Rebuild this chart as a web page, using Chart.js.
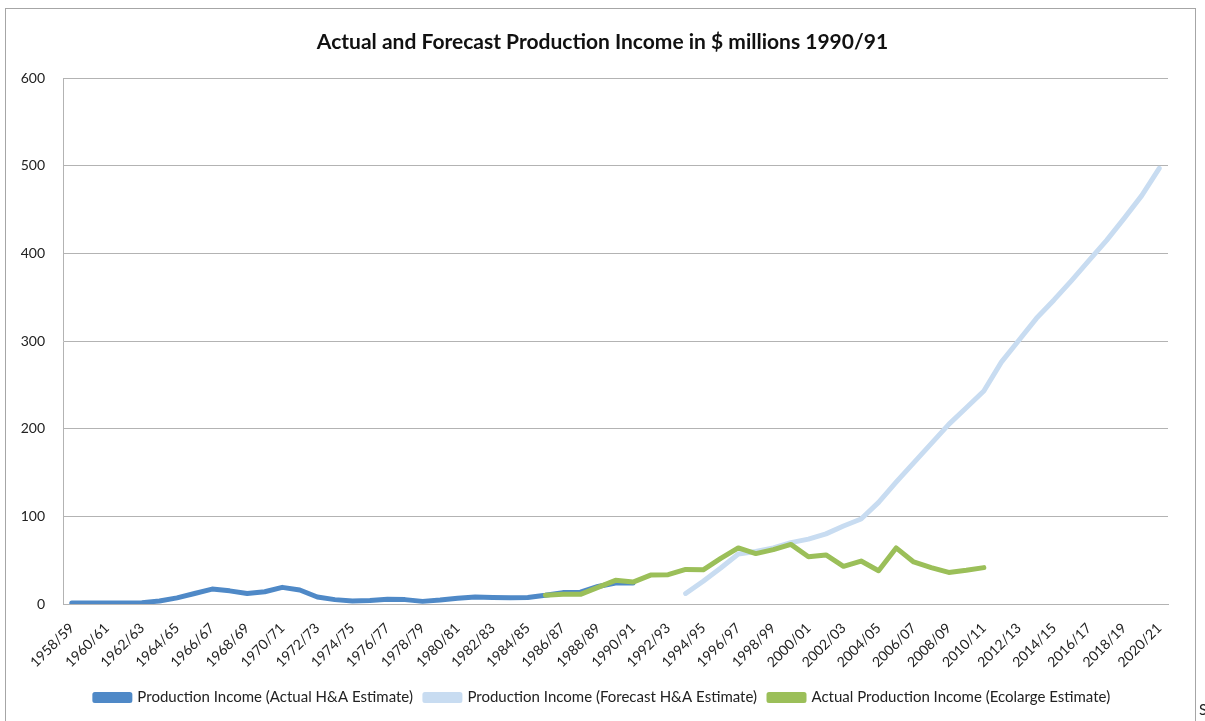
<!DOCTYPE html>
<html>
<head>
<meta charset="utf-8">
<title>Actual and Forecast Production Income</title>
<script src="https://cdn.jsdelivr.net/npm/chart.js@4/dist/chart.umd.min.js"></script>
<style>
    html, body { margin: 0; padding: 0; background: #fff; overflow: hidden; }
    #wrap { position: relative; width: 1205px; height: 721px; }
    #frame {
        position: absolute; left: 5px; top: 8px; width: 1191px; height: 760px;
        border: 1px solid #a6a6a6; box-sizing: border-box;
    }
    #chart { position: absolute; left: 0; top: 0; }
    #stray { position: absolute; left: 1199px; top: 700px; font: 15px Lato, sans-serif; color: #222; }
</style>
</head>
<body>
<div id="wrap">
    <div id="frame"></div>
    <canvas id="chart" width="1205" height="721"></canvas>
    <span id="stray">S</span>
</div>
<script>
// Financial years on the category axis
const years = [
    "1958/59", "1959/60", "1960/61", "1961/62", "1962/63", "1963/64", "1964/65", "1965/66",
    "1966/67", "1967/68", "1968/69", "1969/70", "1970/71", "1971/72", "1972/73", "1973/74",
    "1974/75", "1975/76", "1976/77", "1977/78", "1978/79", "1979/80", "1980/81", "1981/82",
    "1982/83", "1983/84", "1984/85", "1985/86", "1986/87", "1987/88", "1988/89", "1989/90",
    "1990/91", "1991/92", "1992/93", "1993/94", "1994/95", "1995/96", "1996/97", "1997/98",
    "1998/99", "1999/00", "2000/01", "2001/02", "2002/03", "2003/04", "2004/05", "2005/06",
    "2006/07", "2007/08", "2008/09", "2009/10", "2010/11", "2011/12", "2012/13", "2013/14",
    "2014/15", "2015/16", "2016/17", "2017/18", "2018/19", "2019/20", "2020/21"
];

// Production Income (Actual H&A Estimate), 1958/59 - 1990/91
const actualHA = [
    1, 1, 1, 1, 1.5, 3.5, 7, 12,
    17, 15, 12, 14, 19, 16, 8, 5,
    3.5, 4, 5.5, 5, 3, 4.5, 6.5, 8,
    7.5, 7, 7.5, 10, 13, 13.5, 20, 24,
    24, null, null, null, null, null, null, null,
    null, null, null, null, null, null, null, null,
    null, null, null, null, null, null, null, null,
    null, null, null, null, null, null, null
];

// Production Income (Forecast H&A Estimate), 1993/94 - 2020/21
const forecastHA = [
    null, null, null, null, null, null, null, null,
    null, null, null, null, null, null, null, null,
    null, null, null, null, null, null, null, null,
    null, null, null, null, null, null, null, null,
    null, null, null, 12, 26, 41, 57, 60,
    64, 70, 74, 80, 89, 97, 116, 139,
    161, 183, 205, 224, 243, 276, 301, 326,
    347, 369, 392, 415, 440, 466, 497
];

// Actual Production Income (Ecolarge Estimate), 1985/86 - 2010/11
const actualEcolarge = [
    null, null, null, null, null, null, null, null,
    null, null, null, null, null, null, null, null,
    null, null, null, null, null, null, null, null,
    null, null, null, 10, 11, 11, 19, 27,
    25, 33, 33.5, 39.5, 39, 52, 64, 57.5,
    62, 68, 54, 56, 43, 49, 38, 64,
    48, 41.5, 36, 38.5, 41.5, null, null, null,
    null, null, null, null, null, null, null
];

const yTicks = [0, 100, 200, 300, 400, 500, 600];

document.addEventListener("DOMContentLoaded", () => {
    const ctx = document.getElementById("chart").getContext("2d");

    Chart.defaults.font.family = "Lato, 'Open Sans', sans-serif";
    Chart.defaults.color = "#222";

    // order: lower number is painted last (on top)
    function series(label, data, color, order) {
        return {
            label: label,
            data: data,
            order: order,
            borderColor: color,
            backgroundColor: color,
            borderWidth: 5,
            pointRadius: 0,
            pointHoverRadius: 0,
            tension: 0,
            borderJoinStyle: "round",
            borderCapStyle: "round",
            spanGaps: false
        };
    }

    new Chart(ctx, {
        type: "line",
        data: {
            labels: years,
            datasets: [
                series("Production Income (Actual H&A Estimate)", actualHA, "#4f89c7", 2),
                series("Production Income (Forecast H&A Estimate)", forecastHA, "#c8dcf1", 1),
                series("Actual Production Income (Ecolarge Estimate)", actualEcolarge, "#9bbf59", 0)
            ]
        },
        options: {
            responsive: false,
            animation: false,
            devicePixelRatio: 1,
            layout: { padding: { left: 0, right: 0, top: 0, bottom: 6 } },
            plugins: {
                title: {
                    display: true,
                    text: "Actual and Forecast Production Income in $ millions 1990/91",
                    color: "#111",
                    font: { size: 21, weight: "bold" },
                    padding: { top: 30, bottom: 23 }
                },
                legend: {
                    position: "bottom",
                    labels: {
                        boxWidth: 35,
                        boxHeight: 6,
                        padding: 12,
                        color: "#222",
                        font: { size: 15 },
                        sort: (a, b) => a.datasetIndex - b.datasetIndex
                    }
                },
                tooltip: { enabled: false }
            },
            scales: {
                x: {
                    offset: true,
                    grid: { display: false },
                    border: { color: "#b3b3b3" },
                    ticks: {
                        autoSkip: false,
                        maxRotation: 45,
                        minRotation: 45,
                        padding: 8,
                        font: { size: 14 },
                        callback: function (value, index) {
                            return index % 2 === 0 ? years[index] : "";
                        }
                    },
                    afterFit: (scale) => { scale.height = 74; }
                },
                y: {
                    min: 0,
                    max: 600,
                    grid: { color: "#b3b3b3", drawTicks: false },
                    border: { color: "#b3b3b3" },
                    afterBuildTicks: (scale) => {
                        scale.ticks = yTicks.map(v => ({ value: v }));
                    },
                    ticks: { padding: 18, font: { size: 14 } },
                    afterFit: (scale) => { scale.width = 63; }
                },
                yRight: {
                    position: "right",
                    grid: { display: false },
                    border: { display: false },
                    ticks: { display: false },
                    afterFit: (scale) => { scale.width = 37; }
                }
            }
        }
    });
});
</script>
</body>
</html>
